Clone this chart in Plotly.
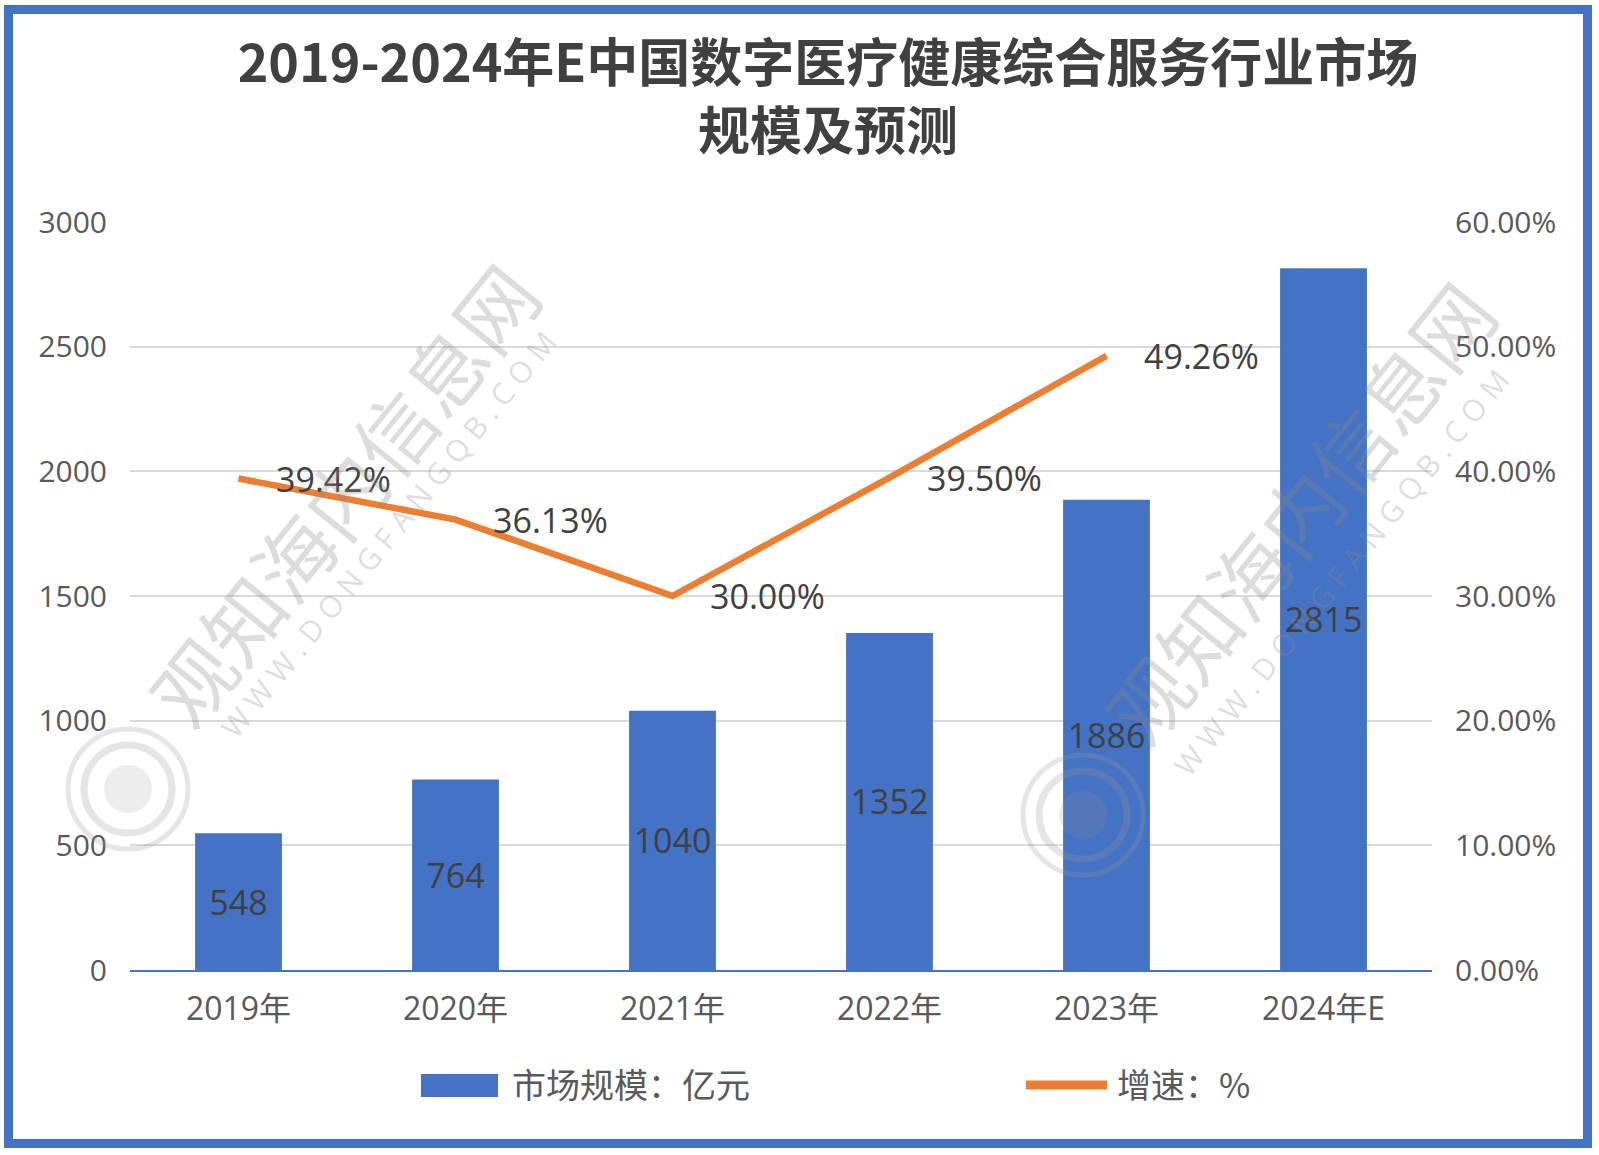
import plotly.graph_objects as go

# ---------------- data ----------------
categories = ["2019年", "2020年", "2021年", "2022年", "2023年", "2024年E"]
market_size = [548, 764, 1040, 1352, 1886, 2815]          # 市场规模：亿元
growth_rate = [39.42, 36.13, 30.00, 39.50, 49.26, None]    # 增速：%
left_ticks = [0, 500, 1000, 1500, 2000, 2500, 3000]
right_ticks = [0, 10, 20, 30, 40, 50, 60]

title_text = "2019-2024年E中国数字医疗健康综合服务行业市场<br>规模及预测"
legend_bar = "市场规模：亿元"
legend_line = "增速：%"

# ---------------- styling ----------------
BLUE = "#4472C4"
ORANGE = "#ED7D31"
TXT = "#595959"
DARK = "#404040"
FONT = "Open Sans, Noto Sans CJK SC, sans-serif"
CJK = "Noto Sans CJK SC, sans-serif"

FW, FH = 1599, 1155
L, R, T, B = 130, 1432, 222, 970
PW, PH = R - L, B - T


def px(x):
    return (x - L) / PW


def py(y):
    return (B - y) / PH


fig = go.Figure()

fig.add_trace(go.Bar(
    x=categories, y=market_size, name=legend_bar,
    marker=dict(color=BLUE, line=dict(width=0)),
    text=[str(v) for v in market_size],
    textposition="inside", insidetextanchor="middle",
    textfont=dict(family=FONT, size=34, color=DARK),
    constraintext="none",
    showlegend=False,
))

fig.add_trace(go.Scatter(
    x=categories, y=growth_rate, name=legend_line, yaxis="y2",
    mode="lines", line=dict(color=ORANGE, width=6.5),
    connectgaps=False, showlegend=False,
))

annotations = []
for c, v in zip(categories, growth_rate):
    if v is None:
        continue
    annotations.append(dict(
        x=c, y=v, xref="x", yref="y2", text=f"{v:.2f}%",
        showarrow=False, xanchor="left", yanchor="middle", xshift=35,
        font=dict(family=FONT, size=34, color=DARK),
    ))

# custom legend (swatches + labels)
shapes = []
shapes.append(dict(type="rect", xref="paper", yref="paper",
                   x0=px(421), x1=px(498), y0=py(1097), y1=py(1074),
                   fillcolor=BLUE, line=dict(width=0)))
shapes.append(dict(type="line", xref="paper", yref="paper",
                   x0=px(1026), x1=px(1107), y0=py(1085), y1=py(1085),
                   line=dict(color=ORANGE, width=9)))
annotations.append(dict(x=px(510), y=py(1083), xref="paper", yref="paper",
                        text=legend_bar, showarrow=False, xanchor="left", yanchor="middle",
                        font=dict(family=CJK, size=34, color=TXT)))
annotations.append(dict(x=px(1115), y=py(1083), xref="paper", yref="paper",
                        text=legend_line, showarrow=False, xanchor="left", yanchor="middle",
                        font=dict(family=CJK, size=34, color=TXT)))

# watermarks
WM = "rgba(140,140,140,0.30)"
for (cx, cy), (ux, uy), (lx, ly) in [((342, 493), (388, 534), (128, 789)),
                                      ((1298, 511), (1341, 572), (1083, 815))]:
    annotations.append(dict(x=px(cx), y=py(cy), xref="paper", yref="paper",
                            text="观知海内信息网", showarrow=False, textangle=-51,
                            xanchor="center", yanchor="middle",
                            font=dict(family=CJK, size=80, color=WM)))
    annotations.append(dict(x=px(ux), y=py(uy), xref="paper", yref="paper",
                            text="W W W . D O N G F A N G Q B . C O M", showarrow=False,
                            xanchor="center", yanchor="middle",
                            textangle=-51, font=dict(family=FONT, size=30, color=WM)))
    for r, w in [(60, 5), (44, 7)]:
        shapes.append(dict(type="circle", xref="paper", yref="paper",
                           x0=px(lx - r), x1=px(lx + r), y0=py(ly + r), y1=py(ly - r),
                           line=dict(color="rgba(150,150,150,0.25)", width=w)))
    shapes.append(dict(type="circle", xref="paper", yref="paper",
                       x0=px(lx - 24), x1=px(lx + 24), y0=py(ly + 24), y1=py(ly - 24),
                       fillcolor="rgba(150,150,150,0.18)", line=dict(width=0)))

# outer blue frame
shapes.append(dict(type="rect", xref="paper", yref="paper", layer="above",
                   x0=px(8.5), x1=px(1587.5), y0=py(1143.5), y1=py(9.5),
                   line=dict(color=BLUE, width=9), fillcolor="rgba(0,0,0,0)"))

fig.update_layout(
    width=FW, height=FH,
    margin=dict(l=L, r=FW - R, t=T, b=FH - B, pad=0),
    paper_bgcolor="white", plot_bgcolor="white",
    title=dict(text=f"<b>{title_text}</b>", x=828 / FW, xanchor="center",
               xref="container", yref="container", y=1 - 82 / FH, yanchor="middle",
               font=dict(family=CJK, size=52, color=DARK)),
    bargap=0.6,
    showlegend=False,
    xaxis=dict(showline=True, linecolor=BLUE, linewidth=2, ticks="",
               tickfont=dict(family=FONT, size=32, color=TXT),
               ticklabelstandoff=10, showgrid=False),
    yaxis=dict(range=[0, 3000], tickvals=left_ticks, showgrid=True,
               gridcolor="#D9D9D9", gridwidth=2, zeroline=False, showline=False,
               tickfont=dict(family=FONT, size=30, color=TXT), ticklabelstandoff=22),
    yaxis2=dict(range=[0, 60], tickvals=right_ticks,
                ticktext=[f"{v:.2f}%" for v in right_ticks],
                overlaying="y", side="right", showgrid=False, zeroline=False,
                showline=False, tickfont=dict(family=FONT, size=30, color=TXT),
                ticklabelstandoff=22),
    annotations=annotations,
    shapes=shapes,
)

fig.write_html("out.html", config={"displayModeBar": False},
               post_script="document.body.style.margin='0';document.body.style.overflow='hidden';")
